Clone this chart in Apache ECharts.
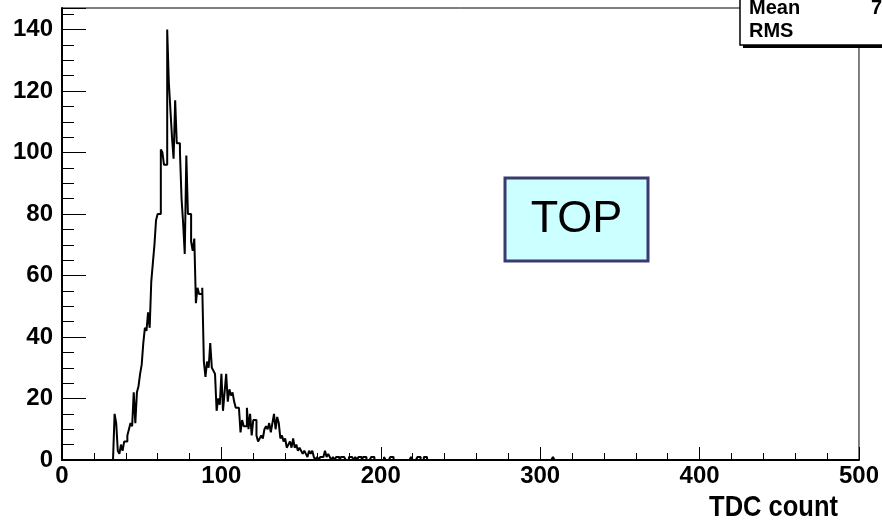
<!DOCTYPE html>
<html>
<head>
<meta charset="utf-8">
<script src="https://cdn.jsdelivr.net/npm/echarts@6/dist/echarts.min.js"></script>
<style>html,body{margin:0;padding:0;background:#fff;}#c{width:882px;height:520px;}</style>
</head>
<body>
<div id="c"></div>
<script>
// Histogram: 1-unit TDC bins; counts listed from bin 30 upward
const binCount = 500;
const firstListedBin = 30;
const counts = [
  0, 0, 0, 15, 12, 3, 2, 5, 3, 6,            // 30-39
  6, 8, 10, 12, 11, 22, 12, 22, 24, 28,      // 40-49
  31, 38, 43, 42, 48, 43, 58, 64, 70, 78,    // 50-59
  80, 80, 101, 100, 96, 96, 140, 123, 114, 105, // 60-69
  98, 117, 103, 103, 100, 85, 77, 67, 99, 80,   // 70-79
  80, 71, 68, 72, 51, 56, 54, 54, 56, 32,    // 80-89
  27, 32, 30, 38, 30, 29, 28, 16, 20, 18,    // 90-99
  28, 16, 22, 28, 19, 23, 21, 22, 19, 17,    // 100-109
  17, 17, 9, 13, 11, 11, 17, 10, 15, 8,      // 110-119
  13, 13, 8, 6, 7, 8, 7, 10, 11, 10,         // 120-129
  12, 9, 12, 15, 10, 14, 12, 7, 8, 6,        // 130-139
  7, 4, 5, 6, 4, 7, 4, 5, 3, 4,              // 140-149
  3, 2, 3, 2, 1, 3, 2, 3, 1, 0,              // 150-159
  1, 0, 1, 1, 1, 3, 1, 2, 1, 0,              // 160-169
  1, 0, 1, 1, 0, 1, 1, 1, 0, 0,              // 170-179
  1, 1, 1, 0, 1, 0, 1, 1, 0, 1,              // 180-189
  1, 0, 0, 0, 1, 1, 0, 0, 0, 0,              // 190-199
  0, 0, 1, 0, 0, 0, 1, 1, 0, 0,              // 200-209
  0, 0, 0, 0, 0, 0, 0, 0, 0, 1,              // 210-219
  0, 0, 0, 1, 1, 0, 0, 1, 1, 0               // 220-229
];
const isolatedBins = [[308, 1]];

const xTicks = [0, 100, 200, 300, 400, 500];
const yTicks = [0, 20, 40, 60, 80, 100, 120, 140];
const xTitle = 'TDC count';
const boxLabel = 'TOP';
const statsLabels = ['Mean', 'RMS'];
const statsValues = ['7', ''];

// assemble full histogram
const hist = new Array(binCount).fill(0);
counts.forEach((v, i) => { hist[firstListedBin + i] = v; });
isolatedBins.forEach(([b, v]) => { hist[b] = v; });
const lineData = hist.map((v, i) => [i, v]);
lineData.push([binCount, hist[binCount - 1]]);

const chart = echarts.init(document.getElementById('c'), null, {renderer: 'canvas'});
const labelFont = {color: '#000', fontFamily: 'Liberation Sans, Arial, sans-serif', fontWeight: 'bold', fontSize: 24};

chart.setOption({
  animation: false,
  backgroundColor: '#fff',
  grid: {left: 62, right: 20, top: 8, bottom: 60, show: true, borderColor: '#000', borderWidth: 1, backgroundColor: 'transparent'},
  xAxis: {
    type: 'value', min: xTicks[0], max: xTicks[xTicks.length - 1], interval: 100,
    axisLine: {lineStyle: {color: '#000', width: 2}},
    axisTick: {inside: true, length: 13, lineStyle: {color: '#000', width: 1}},
    minorTick: {show: true, splitNumber: 5, length: 7, lineStyle: {color: '#000', width: 1}},
    splitLine: {show: false},
    axisLabel: Object.assign({margin: 4}, labelFont)
  },
  yAxis: {
    type: 'value', min: 0, max: 147, interval: 20,
    axisLine: {show: true, lineStyle: {color: '#000', width: 2}},
    axisTick: {show: true, inside: true, length: 24, lineStyle: {color: '#000', width: 1}},
    minorTick: {show: true, splitNumber: 4, length: 12, lineStyle: {color: '#000', width: 1}},
    splitLine: {show: false},
    axisLabel: Object.assign({margin: 9, showMaxLabel: false,
      formatter: v => (yTicks.indexOf(v) >= 0 ? String(v) : '')}, labelFont)
  },
  series: [{
    type: 'line', step: 'end', data: lineData, showSymbol: false, symbol: 'none',
    lineStyle: {color: '#000', width: 2}, z: 3
  }],
  graphic: [
    {type: 'rect', shape: {x: 505, y: 178, width: 143, height: 83},
     style: {fill: '#ccffff', stroke: '#3a3a6e', lineWidth: 3}, z: 10},
    {type: 'text', x: 576.5, y: 220,
     style: {text: boxLabel, fill: '#000', font: '45px "Liberation Sans", Arial, sans-serif', align: 'center', verticalAlign: 'middle'}, z: 11},
    {type: 'rect', shape: {x: 743, y: -5, width: 160, height: 53}, style: {fill: '#000'}, z: 12},
    {type: 'rect', shape: {x: 740, y: -5, width: 160, height: 50}, style: {fill: '#fff', stroke: '#000', lineWidth: 1.5}, z: 13},
    {type: 'text', x: 749, y: 18, style: {text: statsLabels[0], fill: '#000', font: 'bold 20px "Liberation Sans", Arial, sans-serif', verticalAlign: 'bottom'}, z: 14},
    {type: 'text', x: 871, y: 18, style: {text: statsValues[0], fill: '#000', font: 'bold 20px "Liberation Sans", Arial, sans-serif', verticalAlign: 'bottom'}, z: 14},
    {type: 'text', x: 749, y: 41, style: {text: statsLabels[1], fill: '#000', font: 'bold 20px "Liberation Sans", Arial, sans-serif', verticalAlign: 'bottom'}, z: 14},
    {type: 'text', x: 838, y: 523, scaleX: 0.85,
     style: {text: xTitle, fill: '#000', font: 'bold 30px "Liberation Sans", Arial, sans-serif', align: 'right', verticalAlign: 'bottom'}, z: 14}
  ]
});
</script>
</body>
</html>
